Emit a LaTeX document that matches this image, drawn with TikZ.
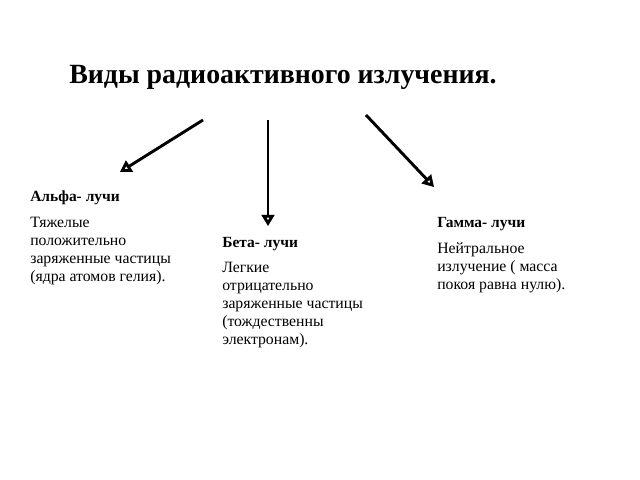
\documentclass[tikz,border=0pt]{standalone}
\usepackage{fontspec}
\setmainfont{Liberation Serif}
\usetikzlibrary{arrows.meta}
\begin{document}
\begin{tikzpicture}[x=0.025cm,y=-0.025cm,
  head/.style={anchor=north west, inner sep=0pt, font=\fontsize{11}{13}\selectfont\bfseries},
  body/.style={anchor=north west, inner sep=0pt, align=left, font=\fontsize{11.2}{12.8}\selectfont},
  ray/.style={line width=2pt, -{Triangle[open, length=8pt, width=9pt]}},
  shade/.style={ray, gray!60, shift={(2,2)}}]
  \useasboundingbox (0,0) rectangle (640,480);
  % Title
  \node[font=\fontsize{19.8}{22}\selectfont\bfseries] (title) at (283,77) {Виды радиоактивного излучения.};
  % Arrow ends
  \coordinate (a1) at (203,120); \coordinate (a2) at (120,172);
  \coordinate (b1) at (268,120); \coordinate (b2) at (268,226);
  \coordinate (c1) at (366,115); \coordinate (c2) at (434,187);
  % Arrows with shadows
  \foreach \s/\e in {a1/a2,b1/b2,c1/c2} {
    \draw[shade] (\s) -- (\e);
    \draw[ray] (\s) -- (\e);
  }
  % Alpha
  \node[head] (alphahead) at (30,190) {Альфа- лучи};
  \node[body] (alphatext) at (30,217) {Тяжелые\\положительно\\заряженные частицы\\(ядра атомов гелия).};
  % Beta
  \node[head] (betahead) at (222,237) {Бета- лучи};
  \node[body] (betatext) at (222,262) {Легкие\\отрицательно\\заряженные частицы\\(тождественны\\электронам).};
  % Gamma
  \node[head] (gammahead) at (437,217) {Гамма- лучи};
  \node[body] (gammatext) at (437,242) {Нейтральное\\излучение ( масса\\покоя равна нулю).};
\end{tikzpicture}
\end{document}
